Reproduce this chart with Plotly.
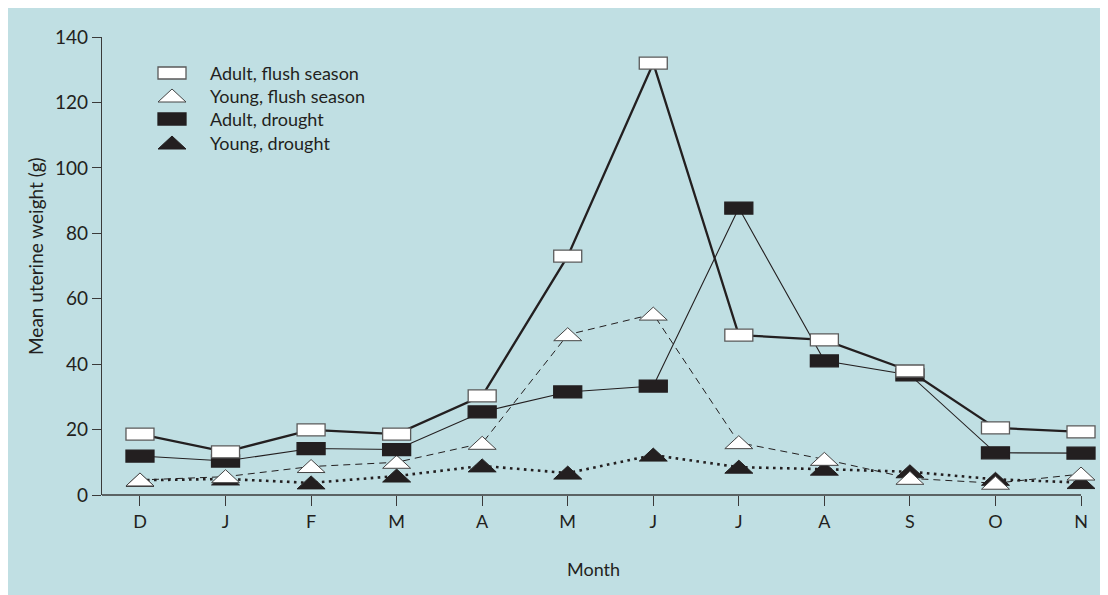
import plotly.graph_objects as go

months = ["D", "J", "F", "M", "A", "M", "J", "J", "A", "S", "O", "N"]
adult_flush = [18.6, 13.2, 19.9, 18.6, 30.3, 73.0, 132.0, 48.9, 47.4, 37.9, 20.5, 19.3]
young_flush = [4.6, 5.6, 8.7, 10.0, 15.8, 49.0, 55.3, 16.0, 10.9, 5.1, 3.6, 6.4]
adult_drought = [11.9, 10.4, 14.2, 13.9, 25.4, 31.5, 33.3, 87.7, 41.0, 36.7, 12.9, 12.8]
young_drought = [4.5, 4.9, 3.7, 5.8, 8.9, 6.7, 12.2, 8.5, 7.9, 7.1, 4.8, 3.8]
y_ticks = [0, 20, 40, 60, 80, 100, 120, 140]

INK = "#231f20"
AXIS = "#3a3a3a"
BG = "#c0dfe3"
FONT = "Lato, 'Open Sans', sans-serif"

x = list(range(len(months)))

# page body has an 8px margin: the figure is 1100x587 and the plot area sits at
# window pixels x 102..1103, y 37..495
PW = 1001.0
PH = 458.0
X0 = -0.444
X1 = 11.257


def pxx(px):
    return (px - 102) / PW


def pxy(py):
    return (495 - py) / PH


fig = go.Figure()
fig.add_trace(go.Scatter(x=x, y=adult_flush, mode="lines", name="Adult, flush season",
                         line=dict(color=INK, width=2.3), showlegend=False))
fig.add_trace(go.Scatter(x=x, y=adult_drought, mode="lines", name="Adult, drought",
                         line=dict(color=INK, width=1.1), showlegend=False))
fig.add_trace(go.Scatter(x=x, y=young_flush, mode="lines", name="Young, flush season",
                         line=dict(color=INK, width=1.0, dash="7px,5px"), showlegend=False))
fig.add_trace(go.Scatter(x=x, y=young_drought, mode="lines", name="Young, drought",
                         line=dict(color=INK, width=2.6, dash="2.6px,4.4px"), showlegend=False))

TRI = "M-14,-6 L14,-6 L0,7 Z"
shapes = []

# x axis line (ends at the last month tick)
shapes.append(dict(type="line", xref="x", yref="paper", x0=X0, x1=x[-1], y0=0, y1=0,
                   line=dict(color=AXIS, width=1.3), layer="above"))


def tri(xa, ya, fill, xref="x", yref="y"):
    return dict(type="path", xref=xref, yref=yref, xsizemode="pixel", ysizemode="pixel",
                xanchor=xa, yanchor=ya, path=TRI, fillcolor=fill,
                line=dict(color=INK if fill != "white" else "#444", width=1), layer="above")


def rect(xa, ya, fill, xref="x", yref="y"):
    return dict(type="rect", xref=xref, yref=yref, xsizemode="pixel", ysizemode="pixel",
                xanchor=xa, yanchor=ya, x0=-14, x1=14, y0=-6, y1=6, fillcolor=fill,
                line=dict(color=INK if fill != "white" else "#5a5a5a", width=1.3), layer="above")


for xi, v in zip(x, young_drought):
    shapes.append(tri(xi, v, INK))
for xi, v in zip(x, young_flush):
    shapes.append(tri(xi, v, "white"))
for xi, v in zip(x, adult_drought):
    shapes.append(rect(xi, v, INK))
for xi, v in zip(x, adult_flush):
    shapes.append(rect(xi, v, "white"))

# manual legend
legend_items = [("Adult, flush season", "rect", "white"),
                ("Young, flush season", "tri", "white"),
                ("Adult, drought", "rect", INK),
                ("Young, drought", "tri", INK)]
legend_rows = [73, 96, 119, 143]
annotations = []
for (label, kind, fill), py in zip(legend_items, legend_rows):
    if kind == "rect":
        shapes.append(rect(pxx(172), pxy(py), fill, "paper", "paper"))
    else:
        shapes.append(tri(pxx(172), pxy(py), fill, "paper", "paper"))
    annotations.append(dict(text=label, xref="paper", yref="paper", x=pxx(208), y=pxy(py),
                            xanchor="left", yanchor="middle", showarrow=False,
                            font=dict(family=FONT, size=18, color=INK)))

annotations.append(dict(text="Mean uterine weight (g)", xref="paper", yref="paper",
                        x=pxx(36), y=pxy(256), textangle=-90,
                        xanchor="center", yanchor="middle", showarrow=False,
                        font=dict(family=FONT, size=19, color=INK)))
annotations.append(dict(text="Month", xref="paper", yref="paper",
                        x=pxx(593), y=pxy(569),
                        xanchor="center", yanchor="middle", showarrow=False,
                        font=dict(family=FONT, size=18, color=INK)))

fig.update_layout(
    width=1100, height=587,
    margin=dict(l=94, r=5, t=29, b=100),
    paper_bgcolor=BG,
    plot_bgcolor=BG,
    font=dict(family=FONT, color=INK),
    shapes=shapes,
    annotations=annotations,
    showlegend=False,
)
fig.update_xaxes(range=[X0, X1], tickvals=x, ticktext=months, showgrid=False, zeroline=False,
                 showline=False, ticks="outside", ticklen=10, tickwidth=1.3,
                 tickcolor=AXIS, tickfont=dict(family=FONT, size=18, color=INK))
fig.update_yaxes(range=[0, 140], tickvals=y_ticks, showgrid=False, zeroline=False,
                 showline=True, linecolor=AXIS, linewidth=1.3, ticks="outside", ticklen=9,
                 tickwidth=1.3, tickcolor=AXIS, tickfont=dict(family=FONT, size=19, color=INK))

fig.write_html("out.html")
